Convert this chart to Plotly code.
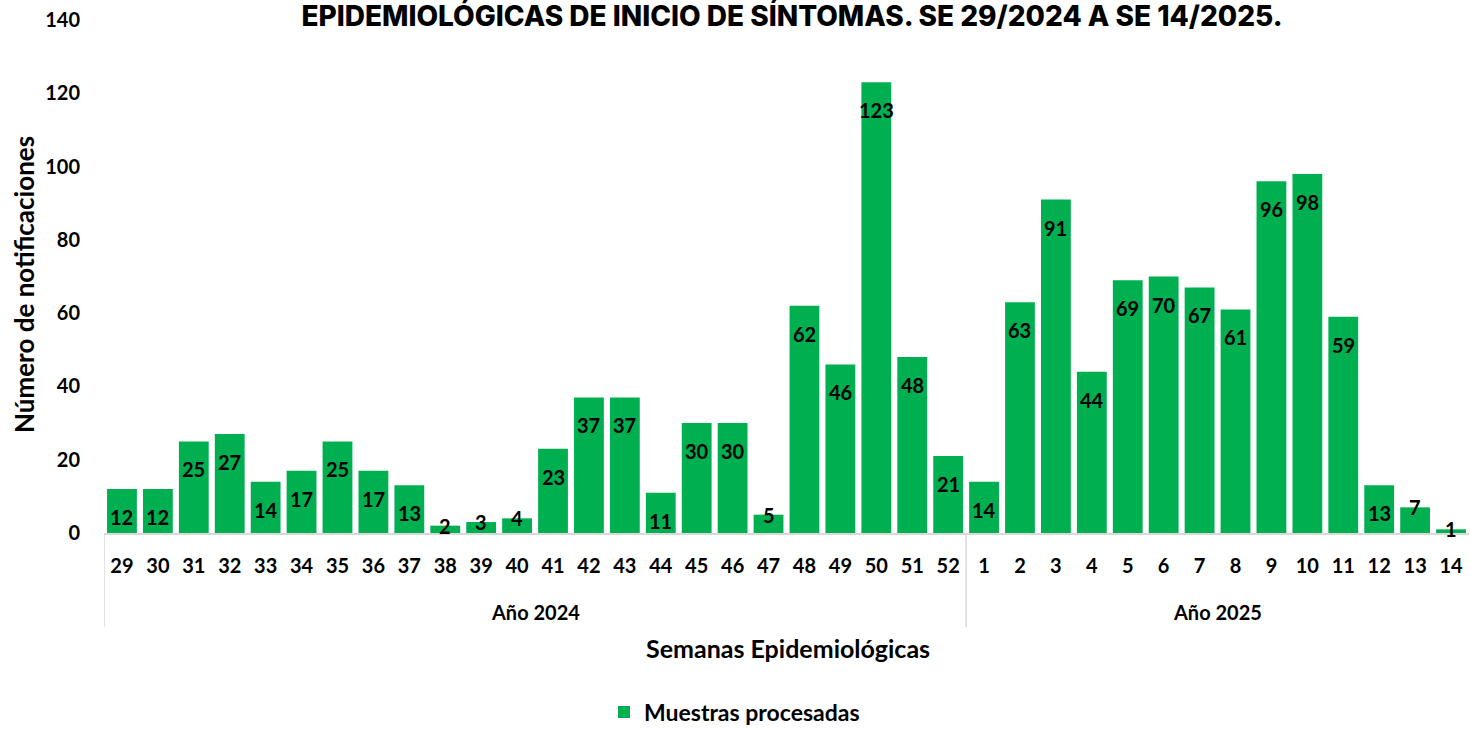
import plotly.graph_objects as go

years = ["Año 2024"] * 24 + ["Año 2025"] * 14
weeks = [str(w) for w in range(29, 53)] + [str(w) for w in range(1, 15)]
values = [12, 12, 25, 27, 14, 17, 25, 17, 13, 2, 3, 4, 23, 37, 37, 11, 30, 30, 5,
          62, 46, 123, 48, 21, 14, 63, 91, 44, 69, 70, 67, 61, 96, 98, 59, 13, 7, 1]
year_labels = ["Año 2024", "Año 2025"]

title_text = "EPIDEMIOLÓGICAS DE INICIO DE SÍNTOMAS. SE 29/2024 A SE 14/2025."
series_name = "Muestras procesadas"
x_title = "Semanas Epidemiológicas"
y_title = "Número de notificaciones"

GREEN = "#00B050"
GRID = "#D9D9D9"
FONT = "Lato"

# plot-area geometry helpers (pixels)
L, R, T, B, W, H = 104, 1, 20, 196, 1470, 729
PH = H - T - B
def py(px):
    return (H - B - px) / PH
def px_(x):
    return (x - L) / (W - L - R)

fig = go.Figure()
fig.add_trace(go.Bar(
    x=weeks, y=values, name=series_name,
    marker=dict(color=GREEN, line=dict(width=0)),
    customdata=years, hovertemplate="%{customdata} SE %{x}: %{y}<extra></extra>",
))

# data labels (inside end of each bar); category index used as x position
for i, v in enumerate(values):
    fig.add_annotation(x=i, y=v, text=f"<b>{v}</b>", showarrow=False,
                       yanchor="middle", yshift=-28 if v >= 10 else 0,
                       font=dict(family=FONT, size=20, color="black"))

# year group labels and dividers (computed from categories)
n = len(weeks)
idx = 0
bounds = [-0.5]
for yl in year_labels:
    cnt = years.count(yl)
    start, end = idx - 0.5, idx + cnt - 0.5
    fig.add_annotation(x=(start + end) / 2, xref="x", y=py(612), yref="paper",
                       text=f"<b>{yl}</b>", showarrow=False, yanchor="middle",
                       font=dict(family=FONT, size=20, color="black"))
    idx += cnt
    bounds.append(end)
for bnd in bounds[:-1]:
    fig.add_shape(type="line", xref="x", yref="paper", x0=bnd, x1=bnd,
                  y0=0, y1=py(627), line=dict(color=GRID, width=1.5))

fig.add_annotation(text=f"<b>{x_title}</b>", xref="paper", yref="paper",
                   x=px_(788), y=py(648), showarrow=False, yanchor="middle",
                   font=dict(family=FONT, size=25, color="black"))
fig.add_annotation(text=f"<b>{y_title}</b>", xref="paper", yref="paper",
                   x=px_(24), y=py(285), textangle=-90, xanchor="center",
                   showarrow=False, font=dict(family=FONT, size=26, color="black"))

fig.update_layout(
    width=W, height=H,
    paper_bgcolor="white", plot_bgcolor="white",
    margin=dict(l=L, r=R, t=T, b=B, autoexpand=False),
    bargap=0.17,
    title=dict(text=title_text, x=792 / W, xanchor="center",
               y=(H - 16) / H, yanchor="middle", yref="container",
               font=dict(family="Inter", size=28, color="black", weight=800)),
    showlegend=True,
    legend=dict(orientation="h", x=px_(604), xanchor="left", y=py(712),
                yanchor="middle", font=dict(family=FONT, size=23, color="black", weight="bold"),
                itemwidth=30),
    font=dict(family=FONT, color="black"),
    xaxis=dict(type="category", showline=True, linecolor=GRID, linewidth=1.5,
               tickfont=dict(family=FONT, size=20, color="black", weight="bold"),
               ticks="", showgrid=False, zeroline=False, ticklabelstandoff=14,
               range=[-0.5, n - 0.5]),
    yaxis=dict(range=[0, 140], dtick=20, showgrid=False, zeroline=False, showline=False,
               tickfont=dict(family=FONT, size=20, color="black", weight="bold"),
               ticklabelstandoff=23),
)

fig.write_html("out.html", config={"displayModeBar": False},
               post_script="document.body.style.margin='0';document.body.style.overflow='hidden';")
